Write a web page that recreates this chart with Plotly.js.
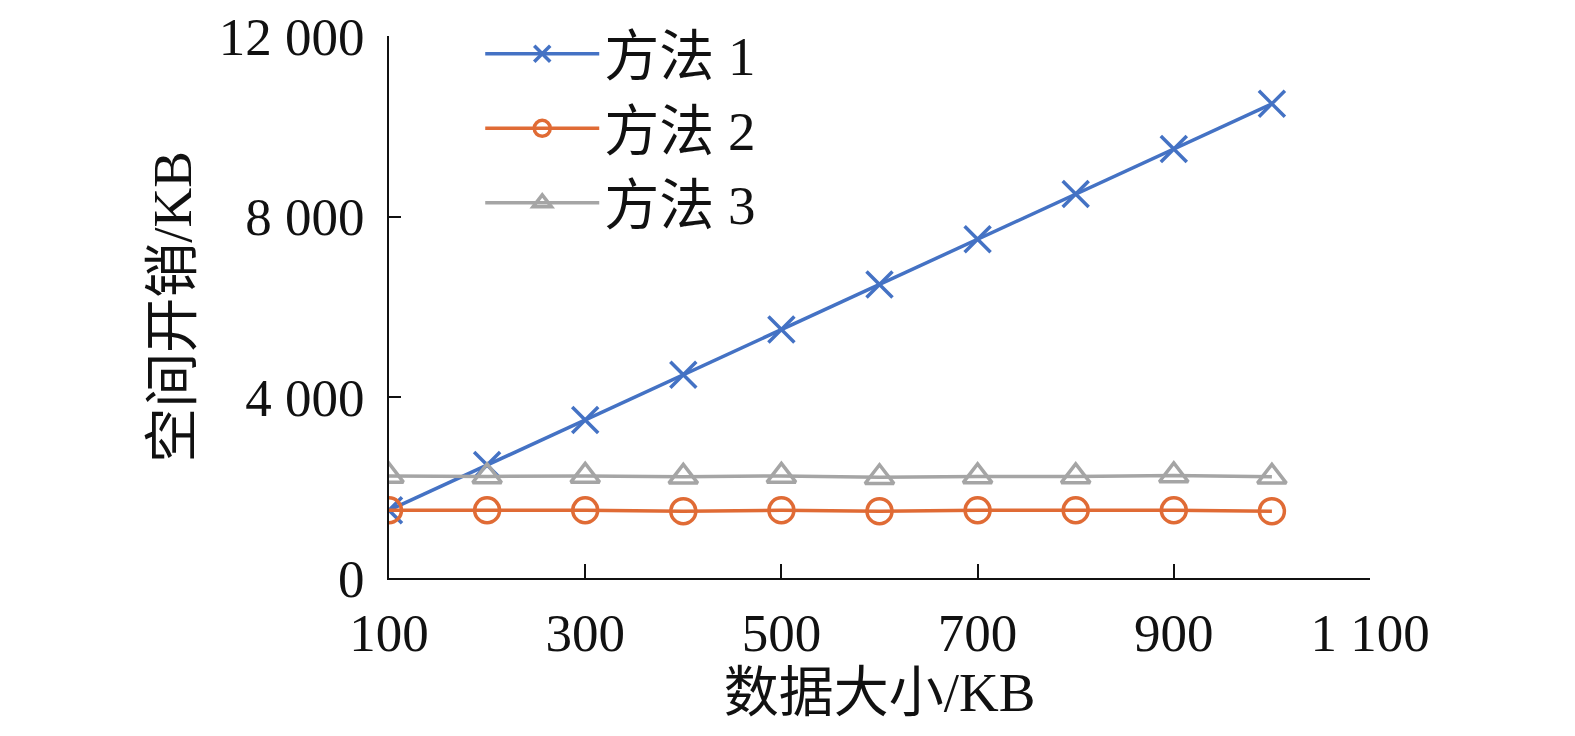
<!DOCTYPE html>
<html>
<head>
<meta charset="utf-8">
<script src="https://cdn.plot.ly/plotly-3.0.1.min.js"></script>
<style>html,body{margin:0;padding:0;background:#fff;}#chart{width:1575px;height:736px;}</style>
</head>
<body>
<div id="chart"></div>
<script>
var dataSize = [100, 200, 300, 400, 500, 600, 700, 800, 900, 1000];
var method1 = [1500, 2500, 3500, 4500, 5500, 6500, 7500, 8500, 9500, 10500];
var method2 = [1500, 1500, 1500, 1480, 1500, 1480, 1500, 1500, 1500, 1480];
var method3 = [2260, 2250, 2260, 2240, 2260, 2230, 2250, 2250, 2270, 2240];
var seriesNames = ['方法 1', '方法 2', '方法 3'];
var xTickVals = [100, 300, 500, 700, 900, 1100];
var xTickText = ['100', '300', '500', '700', '900', '1 100'];
var yTickVals = [0, 4000, 8000, 12000];
var yTickText = ['0', '4 000', '8 000', '12 000'];

var FONT = "'Liberation Serif', 'Times New Roman', 'Noto Sans CJK SC', serif";

var traces = [
  {x: dataSize, y: method1, name: seriesNames[0], mode: 'lines+markers',
   line: {color: '#4472C4', width: 3.5},
   marker: {symbol: 'x-thin-open', size: 26, color: '#4472C4', line: {color: '#4472C4', width: 3.5}}},
  {x: dataSize, y: method2, name: seriesNames[1], mode: 'lines+markers',
   line: {color: '#E06B35', width: 3.5},
   marker: {symbol: 'circle-open', size: 25, color: '#E06B35', line: {color: '#E06B35', width: 3.5}}},
  {x: dataSize, y: method3, name: seriesNames[2], mode: 'lines+markers',
   line: {color: '#A5A5A5', width: 3.5},
   marker: {symbol: 'triangle-up-open', size: 25, color: '#A5A5A5', line: {color: '#A5A5A5', width: 3.5}}}
];

var layout = {
  width: 1575, height: 736,
  margin: {l: 389, r: 205, t: 36, b: 158},
  paper_bgcolor: '#fff', plot_bgcolor: '#fff',
  font: {family: FONT, size: 52, color: '#111'},
  showlegend: true,
  legend: {x: 0.093, y: 1.045, xanchor: 'left', yanchor: 'top', bgcolor: 'rgba(0,0,0,0)',
           font: {family: FONT, size: 55, color: '#111'}, itemwidth: 114, tracegroupgap: 0},
  xaxis: {
    range: [100, 1100], tickmode: 'array', tickvals: xTickVals, ticktext: xTickText,
    showgrid: false, zeroline: false, showline: true, linecolor: '#111', linewidth: 2,
    ticks: 'inside', ticklen: 14, tickwidth: 2, tickcolor: '#111',
    tickfont: {family: FONT, size: 53, color: '#111'}, ticklabelstandoff: 7,
    title: {text: '数据大小/KB', font: {family: FONT, size: 55, color: '#111'}, standoff: 6},
    automargin: false
  },
  yaxis: {
    range: [0, 12000], tickmode: 'array', tickvals: yTickVals, ticktext: yTickText,
    showgrid: false, zeroline: false, showline: true, linecolor: '#111', linewidth: 2,
    ticks: 'inside', ticklen: 12, tickwidth: 2, tickcolor: '#111',
    tickfont: {family: FONT, size: 53, color: '#111'}, ticklabelstandoff: 12,
    title: {text: '空间开销/KB', font: {family: FONT, size: 55, color: '#111'}, standoff: 9},
    automargin: false
  }
};

Plotly.newPlot('chart', traces, layout, {displayModeBar: false, staticPlot: true});
</script>
</body>
</html>
